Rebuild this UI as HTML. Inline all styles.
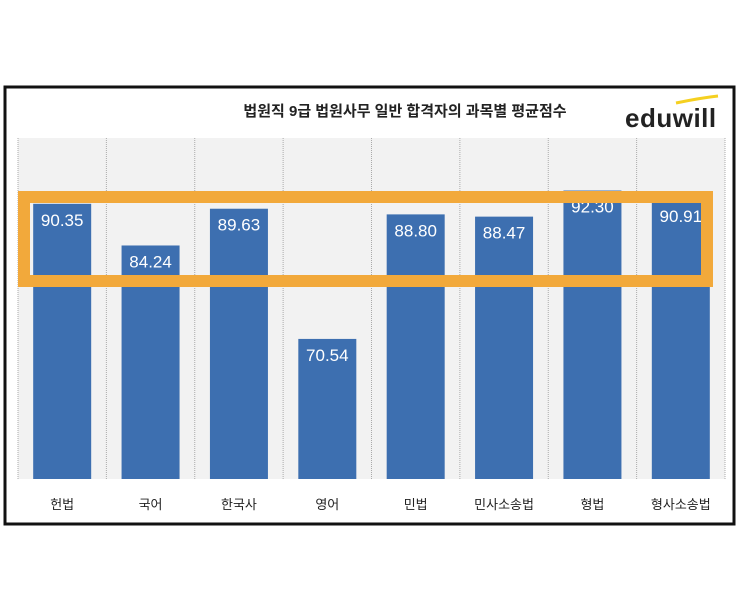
<!DOCTYPE html>
<html><head><meta charset="utf-8"><style>
body{margin:0;background:#fff;width:750px;height:586px;overflow:hidden}
svg text{font-family:"Liberation Sans","Noto Sans CJK KR",sans-serif}
</style></head><body>
<svg width="750" height="586" viewBox="0 0 750 586">
<rect x="5" y="87" width="729" height="437" fill="#fff" stroke="#111" stroke-width="3"/>
<text x="405" y="116" text-anchor="middle" font-size="15" font-weight="bold" fill="#222">법원직 9급 법원사무 일반 합격자의 과목별 평균점수</text>
<g>
<path d="M676 103 Q700 98 718 96" stroke="#f5d020" stroke-width="3" fill="none"/>
<text x="625" y="127" font-size="26" font-weight="bold" fill="#222" letter-spacing="0.5">eduwill</text>
</g>
<g id="plot"></g>
<rect x="24" y="197" width="683" height="84" fill="none" stroke="#f2a93b" stroke-width="12"/>
</svg>
<script>
const categories=["헌법","국어","한국사","영어","민법","민사소송법","형법","형사소송법"];
const values=[90.35,84.24,89.63,70.54,88.80,88.47,92.30,90.91];
const valueLabels=["90.35","84.24","89.63","70.54","88.80","88.47","92.30","90.91"];
const yMin=50,yMax=100;
const plotL=18,plotR=725,plotT=138,plotB=479;
const step=(plotR-plotL)/categories.length;
const y=v=>plotB-(v-yMin)/(yMax-yMin)*(plotB-plotT);
const xc=i=>plotL+step*(i+0.5);
const NS="http://www.w3.org/2000/svg";
const g=document.getElementById('plot');
function mk(t,a){const e=document.createElementNS(NS,t);for(const k in a)e.setAttribute(k,a[k]);g.appendChild(e);return e;}
const bg=mk('rect',{x:plotL,y:plotT,width:plotR-plotL,height:plotB-plotT,fill:'#f2f2f2'});


for(let i=0;i<=categories.length;i++){
  const l=mk('line',{x1:plotL+step*i,x2:plotL+step*i,y1:plotT,y2:plotB,stroke:'#aaa','stroke-dasharray':'1 1'});
  
  
}
categories.forEach((c,i)=>{
  const bw=58;
  const r=mk('rect',{x:xc(i)-bw/2,y:y(values[i]),width:bw,height:plotB-y(values[i]),fill:'#3d6fb0'});
  
  
  const t=mk('text',{x:xc(i),y:y(values[i])+22,'text-anchor':'middle','font-size':'17',fill:'#fff'});
  t.textContent=valueLabels[i];
  
  
  const ct=mk('text',{x:xc(i),y:509,'text-anchor':'middle','font-size':'13',fill:'#222'});
  ct.textContent=c;
  
  
});
</script>
</body></html>
